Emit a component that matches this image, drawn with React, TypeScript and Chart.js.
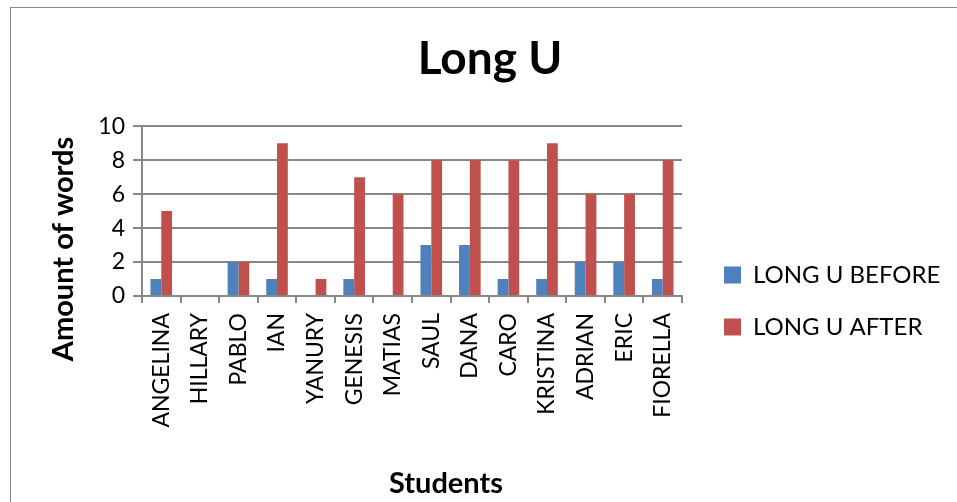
import React, { useEffect, useRef } from "react";
import { Chart, registerables } from "chart.js";

Chart.register(...registerables);

// ---- data ----
const students = [
  "ANGELINA", "HILLARY", "PABLO", "IAN", "YANURY", "GENESIS", "MATIAS",
  "SAUL", "DANA", "CARO", "KRISTINA", "ADRIAN", "ERIC", "FIORELLA",
];
const longUBefore = [1, 0, 2, 1, 0, 1, 0, 3, 3, 1, 1, 2, 2, 1];
const longUAfter = [5, 0, 2, 9, 1, 7, 6, 8, 8, 8, 9, 6, 6, 8];
const seriesNames = ["LONG U BEFORE", "LONG U AFTER"];
const yMin = 0;
const yMax = 10;
const yStep = 2;

// ---- look ----
const FONT = "Lato, 'Open Sans', 'Noto Sans', sans-serif";
const GRID = "#878787";
const BLUE = "#4F81BD";
const RED = "#C0504D";
const W = 957;
const H = 502;

// Legend sits to the right of the plot, vertically centred on the whole chart.
const legendPlacement = {
  id: "legendPlacement",
  beforeLayout(chart: any) {
    const lg = chart.legend;
    if (lg && !lg.__fixedWidth) {
      const fit = lg.fit;
      lg.fit = function () {
        fit.call(this);
        this.width = 275;
      };
      lg.__fixedWidth = true;
    }
  },
  afterLayout(chart: any) {
    const lg = chart.legend;
    if (!lg) return;
    const h = lg.height;
    lg.left = 696;
    lg.right = lg.left + lg.width;
    lg.top = 235;
    lg.bottom = lg.top + h;
  },
};

// Axis captions, centred on the chart frame rather than on the plot area.
const axisCaptions = {
  id: "axisCaptions",
  afterDraw(chart: any) {
    const { ctx } = chart;
    ctx.save();
    ctx.fillStyle = "#000";
    ctx.textAlign = "center";
    ctx.textBaseline = "middle";
    ctx.font = `bold 29px ${FONT}`;
    ctx.translate(64, 249);
    ctx.rotate(-Math.PI / 2);
    ctx.fillText("Amount of words", 0, 0);
    ctx.restore();

    ctx.save();
    ctx.fillStyle = "#000";
    ctx.textAlign = "center";
    ctx.textBaseline = "middle";
    ctx.font = `bold 29px ${FONT}`;
    ctx.fillText("Students", 446, 484);
    ctx.restore();
  },
};

export default function App() {
  const canvasRef = useRef<HTMLCanvasElement | null>(null);

  useEffect(() => {
    if (!canvasRef.current) return;
    const chart = new Chart(canvasRef.current, {
      type: "bar",
      data: {
        labels: students,
        datasets: [
          {
            label: seriesNames[0],
            data: longUBefore,
            backgroundColor: BLUE,
            categoryPercentage: 0.56,
            barPercentage: 1,
          },
          {
            label: seriesNames[1],
            data: longUAfter,
            backgroundColor: RED,
            categoryPercentage: 0.56,
            barPercentage: 1,
          },
        ],
      },
      options: {
        responsive: false,
        animation: false,
        layout: { padding: { left: 23, top: 0, right: 0, bottom: 4 } },
        plugins: {
          title: {
            display: true,
            text: "Long U",
            color: "#000",
            font: { family: FONT, size: 46, weight: "bold" },
            padding: { top: 32, bottom: 39 },
          },
          legend: {
            display: true,
            position: "right",
            align: "start",
            labels: {
              boxWidth: 17,
              boxHeight: 17,
              padding: 28,
              color: "#000",
              font: { family: FONT, size: 24 },
            },
          },
          tooltip: { enabled: false },
        },
        scales: {
          x: {
            grid: {
              display: true,
              drawOnChartArea: false,
              drawTicks: true,
              tickLength: 7,
              color: GRID,
              lineWidth: 2,
              offset: true,
            },
            border: { display: true, color: GRID, width: 2 },
            ticks: {
              autoSkip: false,
              maxRotation: 90,
              minRotation: 90,
              padding: 10,
              color: "#000",
              font: { family: FONT, size: 23 },
            },
            afterFit(scale: any) {
              scale.height = 202;
            },
          },
          y: {
            min: yMin,
            max: yMax,
            ticks: {
              stepSize: yStep,
              padding: 8,
              color: "#000",
              font: { family: FONT, size: 23 },
            },
            grid: { color: GRID, lineWidth: 2, tickLength: 9 },
            border: { display: true, color: GRID, width: 2 },
            afterFit(scale: any) {
              scale.width = 119;
            },
          },
        },
      },
      plugins: [legendPlacement, axisCaptions],
    } as any);
    return () => chart.destroy();
  }, []);

  return (
    <div
      style={{
        position: "fixed",
        left: 0,
        top: 0,
        width: W,
        height: H,
        overflow: "hidden",
        background: "#fff",
      }}
    >
      <div
        style={{
          position: "absolute",
          left: 10,
          top: 7,
          width: W + 20,
          height: H + 20,
          border: "1.5px solid #8a8a8a",
          boxSizing: "border-box",
        }}
      />
      <canvas
        ref={canvasRef}
        width={W}
        height={H}
        style={{ position: "absolute", left: 0, top: 0 }}
      />
    </div>
  );
}
